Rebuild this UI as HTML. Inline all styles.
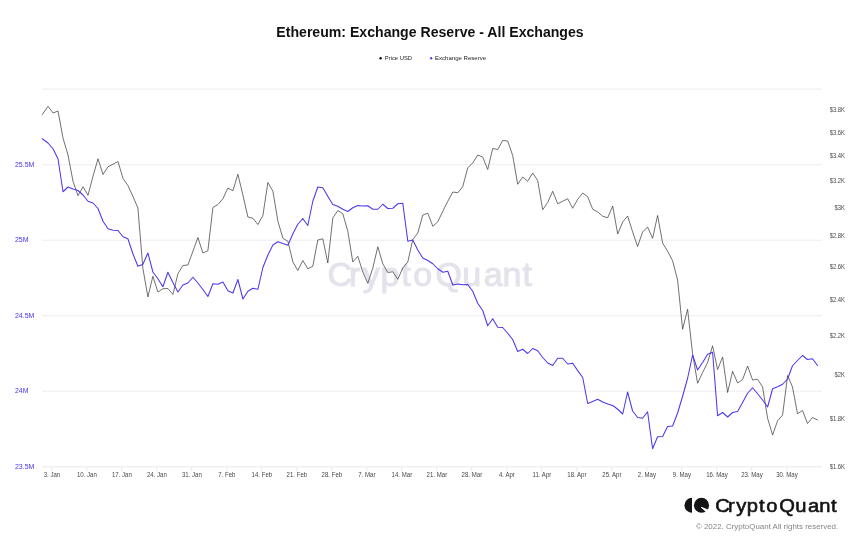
<!DOCTYPE html>
<html><head><meta charset="utf-8"><title>Ethereum: Exchange Reserve - All Exchanges</title>
<style>
html,body{margin:0;padding:0;background:#fff;}
body{width:860px;height:542px;overflow:hidden;position:relative;font-family:"Liberation Sans",sans-serif;}
svg{position:absolute;left:0;top:0;}
text{font-family:"Liberation Sans",sans-serif;}
</style></head><body>
<svg width="860" height="542" viewBox="0 0 860 542">
<rect width="860" height="542" fill="#ffffff"/>
<text x="430" y="37.2" text-anchor="middle" font-size="14.1" font-weight="bold" fill="#111">Ethereum: Exchange Reserve - All Exchanges</text>
<circle cx="380.6" cy="58.3" r="1.25" fill="#111"/><text x="384.8" y="60.3" font-size="5.9" fill="#222" textLength="27.3" lengthAdjust="spacingAndGlyphs">Price USD</text>
<path d="M431.2 56.8 L432.7 58.3 L431.2 59.8 L429.7 58.3 Z" fill="#4b38f0"/><text x="435" y="60.3" font-size="5.95" fill="#222" textLength="51.1" lengthAdjust="spacingAndGlyphs">Exchange Reserve</text>
<rect x="42" y="88.6" width="780" height="1" fill="#ededf1"/>
<rect x="42" y="164.2" width="780" height="1" fill="#ededf1"/>
<rect x="42" y="239.7" width="780" height="1" fill="#ededf1"/>
<rect x="42" y="315.2" width="780" height="1" fill="#ededf1"/>
<rect x="42" y="390.7" width="780" height="1" fill="#ededf1"/>
<rect x="42" y="466.3" width="780" height="1.1" fill="#ececf1"/>
<rect x="51.25" y="467" width="1" height="4.3" fill="#e9e9ee"/><rect x="86.25" y="467" width="1" height="4.3" fill="#e9e9ee"/><rect x="121.25" y="467" width="1" height="4.3" fill="#e9e9ee"/><rect x="156.25" y="467" width="1" height="4.3" fill="#e9e9ee"/><rect x="191.25" y="467" width="1" height="4.3" fill="#e9e9ee"/><rect x="226.25" y="467" width="1" height="4.3" fill="#e9e9ee"/><rect x="261.25" y="467" width="1" height="4.3" fill="#e9e9ee"/><rect x="296.25" y="467" width="1" height="4.3" fill="#e9e9ee"/><rect x="331.25" y="467" width="1" height="4.3" fill="#e9e9ee"/><rect x="366.25" y="467" width="1" height="4.3" fill="#e9e9ee"/><rect x="401.25" y="467" width="1" height="4.3" fill="#e9e9ee"/><rect x="436.25" y="467" width="1" height="4.3" fill="#e9e9ee"/><rect x="471.25" y="467" width="1" height="4.3" fill="#e9e9ee"/><rect x="506.25" y="467" width="1" height="4.3" fill="#e9e9ee"/><rect x="541.25" y="467" width="1" height="4.3" fill="#e9e9ee"/><rect x="576.25" y="467" width="1" height="4.3" fill="#e9e9ee"/><rect x="611.25" y="467" width="1" height="4.3" fill="#e9e9ee"/><rect x="646.25" y="467" width="1" height="4.3" fill="#e9e9ee"/><rect x="681.25" y="467" width="1" height="4.3" fill="#e9e9ee"/><rect x="716.25" y="467" width="1" height="4.3" fill="#e9e9ee"/><rect x="751.25" y="467" width="1" height="4.3" fill="#e9e9ee"/><rect x="786.25" y="467" width="1" height="4.3" fill="#e9e9ee"/>
<text transform="scale(1.05,1)" x="312.01 332.41 345.43 362.37 382.13 393.50 414.66 440.15 460.64 478.64 497.74" y="286.0" font-family="'DejaVu Sans',sans-serif" font-size="32.4" fill="#e4e3ec" stroke="#e4e3ec" stroke-width="1.01">CryptoQuant</text>
<text transform="translate(51.9,476.9) scale(0.92,1)" text-anchor="middle" font-size="6.6" fill="#484848">3. Jan</text><text transform="translate(86.9,476.9) scale(0.92,1)" text-anchor="middle" font-size="6.6" fill="#484848">10. Jan</text><text transform="translate(121.9,476.9) scale(0.92,1)" text-anchor="middle" font-size="6.6" fill="#484848">17. Jan</text><text transform="translate(156.9,476.9) scale(0.92,1)" text-anchor="middle" font-size="6.6" fill="#484848">24. Jan</text><text transform="translate(191.9,476.9) scale(0.92,1)" text-anchor="middle" font-size="6.6" fill="#484848">31. Jan</text><text transform="translate(226.9,476.9) scale(0.92,1)" text-anchor="middle" font-size="6.6" fill="#484848">7. Feb</text><text transform="translate(261.9,476.9) scale(0.92,1)" text-anchor="middle" font-size="6.6" fill="#484848">14. Feb</text><text transform="translate(296.9,476.9) scale(0.92,1)" text-anchor="middle" font-size="6.6" fill="#484848">21. Feb</text><text transform="translate(331.9,476.9) scale(0.92,1)" text-anchor="middle" font-size="6.6" fill="#484848">28. Feb</text><text transform="translate(366.9,476.9) scale(0.92,1)" text-anchor="middle" font-size="6.6" fill="#484848">7. Mar</text><text transform="translate(401.9,476.9) scale(0.92,1)" text-anchor="middle" font-size="6.6" fill="#484848">14. Mar</text><text transform="translate(436.9,476.9) scale(0.92,1)" text-anchor="middle" font-size="6.6" fill="#484848">21. Mar</text><text transform="translate(471.9,476.9) scale(0.92,1)" text-anchor="middle" font-size="6.6" fill="#484848">28. Mar</text><text transform="translate(506.9,476.9) scale(0.92,1)" text-anchor="middle" font-size="6.6" fill="#484848">4. Apr</text><text transform="translate(541.9,476.9) scale(0.92,1)" text-anchor="middle" font-size="6.6" fill="#484848">11. Apr</text><text transform="translate(576.9,476.9) scale(0.92,1)" text-anchor="middle" font-size="6.6" fill="#484848">18. Apr</text><text transform="translate(611.9,476.9) scale(0.92,1)" text-anchor="middle" font-size="6.6" fill="#484848">25. Apr</text><text transform="translate(646.9,476.9) scale(0.92,1)" text-anchor="middle" font-size="6.6" fill="#484848">2. May</text><text transform="translate(681.9,476.9) scale(0.92,1)" text-anchor="middle" font-size="6.6" fill="#484848">9. May</text><text transform="translate(716.9,476.9) scale(0.92,1)" text-anchor="middle" font-size="6.6" fill="#484848">16. May</text><text transform="translate(751.9,476.9) scale(0.92,1)" text-anchor="middle" font-size="6.6" fill="#484848">23. May</text><text transform="translate(786.9,476.9) scale(0.92,1)" text-anchor="middle" font-size="6.6" fill="#484848">30. May</text>
<text transform="translate(15,166.9) scale(0.93,1)" font-size="7.5" fill="#4533ee">25.5M</text><text transform="translate(15,242.4) scale(0.93,1)" font-size="7.5" fill="#4533ee">25M</text><text transform="translate(15,317.9) scale(0.93,1)" font-size="7.5" fill="#4533ee">24.5M</text><text transform="translate(15,393.4) scale(0.93,1)" font-size="7.5" fill="#4533ee">24M</text><text transform="translate(15,469.4) scale(0.93,1)" font-size="7.5" fill="#4533ee">23.5M</text>
<text transform="translate(845,112.3) scale(0.9,1)" text-anchor="end" font-size="6.5" fill="#4a4a4a">$3.8K</text><text transform="translate(845,134.6) scale(0.9,1)" text-anchor="end" font-size="6.5" fill="#4a4a4a">$3.6K</text><text transform="translate(845,158.2) scale(0.9,1)" text-anchor="end" font-size="6.5" fill="#4a4a4a">$3.4K</text><text transform="translate(845,183.2) scale(0.9,1)" text-anchor="end" font-size="6.5" fill="#4a4a4a">$3.2K</text><text transform="translate(845,209.9) scale(0.9,1)" text-anchor="end" font-size="6.5" fill="#4a4a4a">$3K</text><text transform="translate(845,238.3) scale(0.9,1)" text-anchor="end" font-size="6.5" fill="#4a4a4a">$2.8K</text><text transform="translate(845,268.9) scale(0.9,1)" text-anchor="end" font-size="6.5" fill="#4a4a4a">$2.6K</text><text transform="translate(845,302.0) scale(0.9,1)" text-anchor="end" font-size="6.5" fill="#4a4a4a">$2.4K</text><text transform="translate(845,337.9) scale(0.9,1)" text-anchor="end" font-size="6.5" fill="#4a4a4a">$2.2K</text><text transform="translate(845,377.2) scale(0.9,1)" text-anchor="end" font-size="6.5" fill="#4a4a4a">$2K</text><text transform="translate(845,420.7) scale(0.9,1)" text-anchor="end" font-size="6.5" fill="#4a4a4a">$1.8K</text><text transform="translate(845,469.3) scale(0.9,1)" text-anchor="end" font-size="6.5" fill="#4a4a4a">$1.6K</text>
<path d="M42.3 114.50 L48.0 106.25 L53.0 113.00 L58.0 111.00 L63.0 138.00 L68.0 155.00 L73.0 181.25 L78.0 195.75 L83.0 186.75 L88.0 195.25 L93.0 176.25 L98.0 158.75 L103.0 174.50 L108.0 166.75 L113.0 164.25 L118.0 161.50 L123.0 178.50 L127.9 185.50 L132.9 196.25 L137.9 208.00 L142.9 268.50 L147.9 296.90 L152.9 276.25 L157.9 292.00 L162.9 288.75 L167.9 288.50 L172.9 294.50 L177.9 273.75 L182.9 265.50 L187.9 265.00 L192.9 251.25 L197.9 237.50 L202.9 253.00 L207.9 250.75 L212.9 207.50 L217.9 204.50 L222.9 198.75 L227.9 188.00 L232.9 190.75 L237.9 174.25 L242.9 195.00 L247.9 217.00 L252.9 218.25 L257.9 224.50 L262.9 215.50 L267.9 182.50 L272.9 191.25 L277.9 221.25 L282.9 238.25 L287.9 241.25 L292.9 262.00 L297.8 270.50 L302.8 260.50 L307.8 268.75 L312.8 266.25 L317.8 240.00 L322.8 238.75 L327.8 263.00 L332.8 218.00 L337.8 210.50 L342.8 213.75 L347.8 231.25 L352.8 262.00 L357.8 256.25 L362.8 272.00 L367.8 283.25 L372.8 268.00 L377.8 246.75 L382.8 263.75 L387.8 272.50 L392.8 271.75 L397.8 279.25 L402.8 268.00 L407.8 262.00 L412.8 239.50 L417.8 233.00 L422.8 215.00 L427.8 213.25 L432.8 226.25 L437.8 221.75 L442.8 211.25 L447.8 201.25 L452.8 192.00 L457.8 192.75 L462.7 186.75 L467.7 168.00 L472.7 163.00 L477.7 155.00 L482.7 157.00 L487.7 169.50 L492.7 148.50 L497.7 149.50 L502.7 140.50 L507.7 141.00 L512.7 155.50 L517.7 184.25 L522.7 177.00 L527.7 181.25 L532.7 173.00 L537.7 180.50 L542.7 209.75 L547.7 202.50 L552.7 191.25 L557.7 203.75 L562.7 201.25 L567.7 198.75 L572.7 208.25 L577.7 199.25 L582.7 193.00 L587.7 196.75 L592.7 209.25 L597.7 212.00 L602.7 216.25 L607.7 217.75 L612.7 206.00 L617.7 234.00 L622.7 222.00 L627.6 216.00 L632.6 231.75 L637.6 246.50 L642.6 232.00 L647.6 227.00 L652.6 238.25 L657.6 215.50 L662.6 243.00 L667.6 251.25 L672.6 260.75 L677.6 280.00 L682.6 329.25 L687.6 309.25 L692.6 353.75 L697.6 383.25 L702.6 372.50 L707.6 362.50 L712.6 345.75 L717.6 369.50 L722.6 357.00 L727.6 392.50 L732.6 371.25 L737.6 383.00 L742.6 379.50 L747.6 366.00 L752.6 380.00 L757.6 379.25 L762.6 387.00 L767.6 418.25 L772.6 435.00 L777.6 420.75 L782.6 415.00 L787.6 375.50 L792.5 387.00 L797.5 413.75 L802.5 410.50 L807.5 423.50 L812.5 417.50 L817.5 420.00" fill="none" stroke="#333" stroke-width="0.7" stroke-linejoin="round" stroke-linecap="round"/>
<path d="M42.3 138.75 L48.0 143.00 L53.0 148.75 L58.0 158.75 L63.0 191.75 L68.0 187.00 L73.0 189.00 L78.0 190.50 L83.0 195.00 L88.0 201.25 L93.0 203.00 L98.0 208.50 L103.0 221.25 L108.0 228.75 L113.0 230.25 L118.0 230.50 L123.0 236.75 L127.9 238.75 L132.9 253.75 L137.9 266.25 L142.9 264.25 L147.9 253.00 L152.9 272.00 L157.9 278.75 L162.9 286.75 L167.9 272.25 L172.9 282.50 L177.9 292.00 L182.9 285.00 L187.9 283.00 L192.9 277.25 L197.9 283.00 L202.9 289.50 L207.9 296.50 L212.9 283.75 L217.9 284.25 L222.9 282.00 L227.9 290.75 L232.9 293.00 L237.9 279.50 L242.9 299.00 L247.9 291.25 L252.9 288.25 L257.9 289.25 L262.9 267.50 L267.9 255.00 L272.9 245.00 L277.9 241.75 L282.9 243.50 L287.9 245.25 L292.9 233.75 L297.8 224.25 L302.8 218.50 L307.8 225.50 L312.8 201.25 L317.8 187.00 L322.8 187.75 L327.8 196.25 L332.8 204.50 L337.8 206.25 L342.8 209.25 L347.8 211.50 L352.8 207.75 L357.8 205.50 L362.8 206.00 L367.8 205.75 L372.8 209.25 L377.8 209.25 L382.8 204.25 L387.8 208.50 L392.8 208.25 L397.8 203.75 L402.8 203.25 L407.8 241.25 L412.8 240.00 L417.8 250.00 L422.8 258.00 L427.8 260.50 L432.8 263.75 L437.8 268.75 L442.8 272.25 L447.8 271.25 L452.8 285.00 L457.8 284.00 L462.7 284.75 L467.7 284.50 L472.7 291.25 L477.7 303.25 L482.7 310.50 L487.7 325.75 L492.7 318.75 L497.7 327.25 L502.7 327.50 L507.7 333.25 L512.7 339.50 L517.7 351.50 L522.7 349.25 L527.7 353.50 L532.7 348.50 L537.7 350.75 L542.7 357.50 L547.7 363.00 L552.7 365.50 L557.7 358.25 L562.7 358.25 L567.7 364.00 L572.7 363.25 L577.7 370.60 L582.7 377.50 L587.7 403.50 L592.7 401.50 L597.7 399.25 L602.7 402.00 L607.7 404.00 L612.7 405.50 L617.7 409.25 L622.7 414.00 L627.6 392.00 L632.6 411.00 L637.6 417.50 L642.6 418.25 L647.6 411.75 L652.6 448.75 L657.6 436.75 L662.6 436.50 L667.6 426.50 L672.6 426.00 L677.6 413.00 L682.6 396.25 L687.6 378.25 L692.6 355.00 L697.6 370.00 L702.6 362.50 L707.6 354.25 L712.6 352.25 L717.6 415.75 L722.6 412.50 L727.6 417.00 L732.6 412.50 L737.6 411.50 L742.6 402.50 L747.6 393.25 L752.6 387.75 L757.6 393.75 L762.6 400.00 L767.6 407.00 L772.6 388.75 L777.6 386.75 L782.6 384.25 L787.6 379.00 L792.5 365.75 L797.5 360.50 L802.5 355.50 L807.5 359.50 L812.5 358.75 L817.5 365.50" fill="none" stroke="#4b38f0" stroke-width="1.05" stroke-linejoin="round" stroke-linecap="round"/>
<g fill="#141416">
<path d="M692 497.7 A7.55 7.55 0 0 0 692 512.8 Z"/>
<circle cx="701.5" cy="505.25" r="7.55"/>
</g>
<path d="M701.3 506.8 L709.6 510.2 L707.4 513.2 L700.9 507.5 Z" fill="#fff"/>
<text transform="scale(1.05,1)" x="681.31 693.41 701.14 711.18 722.90 729.65 742.20 757.32 769.47 780.15 791.47" y="511.9" font-family="'DejaVu Sans',sans-serif" font-size="19.2" fill="#141416" stroke="#141416" stroke-width="0.6">CryptoQuant</text>
<text x="695.9" y="529.2" font-size="7.95" fill="#858585" textLength="142.3" lengthAdjust="spacingAndGlyphs">© 2022. CryptoQuant All rights reserved.</text>
</svg></body></html>
